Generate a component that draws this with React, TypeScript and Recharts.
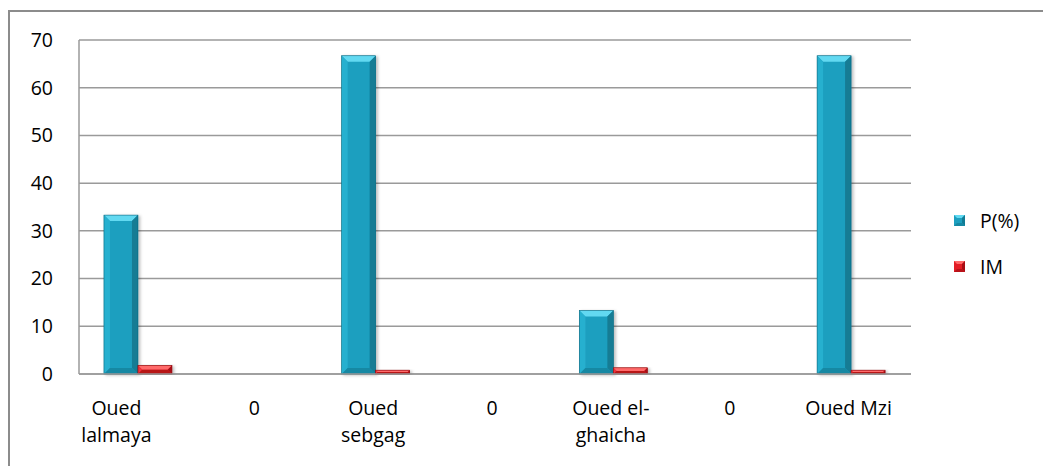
import React from "react";
import { BarChart, Bar, XAxis, YAxis, CartesianGrid } from "recharts";

const categories = ["Oued lalmaya", "0", "Oued sebgag", "0", "Oued el-ghaicha", "0", "Oued Mzi"];
const tickLines = [["Oued", "lalmaya"], ["0"], ["Oued", "sebgag"], ["0"], ["Oued el-", "ghaicha"], ["0"], ["Oued Mzi"]];
const pValues = [33.3, 0, 66.7, 0, 13.3, 0, 66.7];
const imValues = [1.8, 0, 0.8, 0, 1.3, 0, 0.8];
const yTicks = [0, 10, 20, 30, 40, 50, 60, 70];
const seriesNames = ["P(%)", "IM"];

const data = categories.map((c, i) => ({ id: i, name: c, p: pValues[i], im: imValues[i] }));

const FONT = "'Open Sans', sans-serif";
const FS = 19.5;

const palettes = {
  p: { main: "#1d9fbf", top: "#62d9f1", left: "#27b0cf", right: "#127b94", bottom: "#1688a3", edge: "#0f6a80" },
  im: { main: "#e31d25", top: "#ff6a6a", left: "#f0323a", right: "#a80e14", bottom: "#b81319", edge: "#8a0a0f" },
};

const makeShape = (pal: any) => (props: any) => {
  const { x, y, width, height } = props;
  if (!height || height <= 0) return null;
  const w = width;
  const h = height;
  const b = Math.min(6, h / 2, w / 2);
  return (
    <g filter="url(#barShadow)">
      <rect x={x} y={y} width={w} height={h} fill={pal.main} />
      <polygon points={`${x},${y} ${x + w},${y} ${x + w - b},${y + b} ${x + b},${y + b}`} fill={pal.top} />
      <polygon points={`${x},${y} ${x + b},${y + b} ${x + b},${y + h - b} ${x},${y + h}`} fill={pal.left} />
      <polygon points={`${x + w},${y} ${x + w},${y + h} ${x + w - b},${y + h - b} ${x + w - b},${y + b}`} fill={pal.right} />
      <polygon points={`${x},${y + h} ${x + b},${y + h - b} ${x + w - b},${y + h - b} ${x + w},${y + h}`} fill={pal.bottom} />
      <rect x={x} y={y} width={w} height={h} fill="none" stroke={pal.edge} strokeWidth={0.6} />
    </g>
  );
};

const XTick = (props: any) => {
  const { x, y, payload } = props;
  const lines = tickLines[payload.value] || [];
  const cx = x - (payload.value === 0 ? 22 : 3);
  return (
    <text x={cx} y={y + 33} textAnchor="middle" fontFamily={FONT} fontSize={FS} fill="#000">
      {lines.map((l, i) => (
        <tspan key={i} x={cx} dy={i === 0 ? 0 : 27}>
          {l}
        </tspan>
      ))}
    </text>
  );
};

const LegendBox = () => {
  const pals = [palettes.p, palettes.im];
  return (
    <div style={{ position: "absolute", left: 954, top: 207, fontFamily: FONT, fontSize: FS, color: "#000" }}>
      {seriesNames.map((n, i) => (
        <div key={n} style={{ display: "flex", alignItems: "center", height: 26, marginBottom: i === 0 ? 20 : 0 }}>
          <svg width={11} height={11} style={{ marginRight: 15 }}>
            <rect x={0} y={0} width={11} height={11} fill={pals[i].main} />
            <polygon points="0,0 11,0 8,3 3,3" fill={pals[i].top} />
            <polygon points="11,0 11,11 8,8 8,3" fill={pals[i].right} />
            <polygon points="0,11 3,8 8,8 11,11" fill={pals[i].bottom} />
          </svg>
          <span>{n}</span>
        </div>
      ))}
    </div>
  );
};

export default function App() {
  return (
    <div style={{ position: "absolute", left: 0, top: 0, width: 1043, height: 466, overflow: "hidden", background: "#fff" }}>
      <BarChart
        width={1043}
        height={466}
        data={data}
        margin={{ top: 40, right: 132, bottom: 0, left: 0 }}
        barCategoryGap="21%"
        barGap={0}
      >
        <defs>
          <filter id="barShadow" x="-20%" y="-5%" width="150%" height="115%">
            <feDropShadow dx="2" dy="1" stdDeviation="1.5" floodColor="#000" floodOpacity="0.25" />
          </filter>
        </defs>
        <CartesianGrid vertical={false} stroke="#9a9a9a" strokeWidth={1.5} />
        <XAxis
          dataKey="id"
          type="category"
          height={92}
          tick={<XTick />}
          tickLine={false}
          axisLine={{ stroke: "#9a9a9a", strokeWidth: 1.5 }}
          interval={0}
        />
        <YAxis
          width={79}
          domain={[0, 70]}
          ticks={yTicks}
          tickLine={false}
          tickSize={0}
          tickMargin={26}
          axisLine={{ stroke: "#9a9a9a", strokeWidth: 1.5 }}
          tick={{ fontFamily: FONT, fontSize: FS, fill: "#000" }}
          interval={0}
        />
        <Bar dataKey="p" name={seriesNames[0]} isAnimationActive={false} shape={makeShape(palettes.p)} />
        <Bar dataKey="im" name={seriesNames[1]} isAnimationActive={false} shape={makeShape(palettes.im)} />
      </BarChart>
      <LegendBox />
      <div
        style={{
          position: "absolute",
          left: 8,
          top: 10,
          width: 1100,
          height: 500,
          borderLeft: "2px solid #8c8c8c",
          borderTop: "2px solid #8c8c8c",
          pointerEvents: "none",
        }}
      />
    </div>
  );
}
